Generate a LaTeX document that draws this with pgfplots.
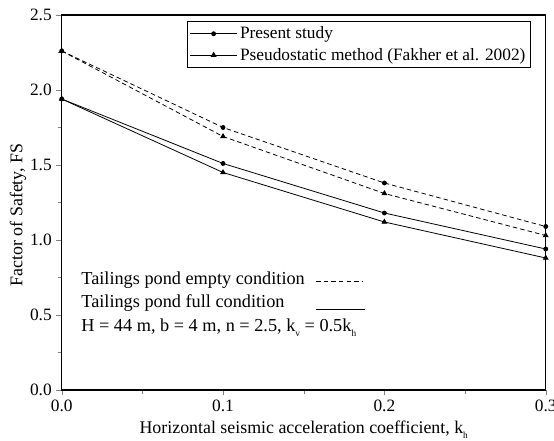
\documentclass[border=0pt]{standalone}
\usepackage{fontspec}
\setmainfont{Liberation Serif}
\usepackage{pgfplots}
\pgfplotsset{compat=1.18}

% small lowered subscript, as in the original figure
\newcommand{\lowsub}[1]{\raisebox{-0.55ex}{\fontsize{7}{7}\selectfont #1}}

% FS against k_h: present study and pseudostatic method, pond empty and full
\pgfplotstableread{
kh   emptyPS  emptyPM  fullPS  fullPM
0.0  2.26     2.26     1.94    1.94
0.1  1.75     1.69     1.51    1.45
0.2  1.38     1.31     1.18    1.12
0.3  1.09     1.03     0.94    0.88
}\fsdata

\begin{document}
\begin{tikzpicture}[font=\fontsize{13}{15.6}\selectfont]
\begin{axis}[
    scale only axis,
    width=363pt, height=281.25pt,
    xmin=0, xmax=0.3, ymin=0, ymax=2.5,
    xtick={0,0.1,0.2,0.3},
    ytick={0,0.5,1,1.5,2,2.5},
    minor x tick num=1, minor y tick num=1,
    tick pos=left, tick align=outside,
    major tick length=4pt, minor tick length=3pt,
    axis line style={line width=0.8pt},
    /pgf/number format/assume math mode=true,
    xticklabel style={/pgf/number format/.cd, fixed, fixed zerofill, precision=1},
    yticklabel style={/pgf/number format/.cd, fixed, fixed zerofill, precision=1},
    xlabel={Horizontal seismic acceleration coefficient, k\lowsub{h}},
    ylabel={Factor of Safety, FS},
    label style={font=\fontsize{13.4}{16}\selectfont},
    ylabel style={at={(ticklabel cs:0.467)}},
    ylabel shift=-4pt,
    legend style={at={(rel axis cs:0.970,0.984)}, anchor=north east,
        draw=black, line width=0.6pt, inner xsep=2pt, inner ysep=2pt,
        row sep=1.5pt},
    legend cell align=left,
    legend image code/.code={
        \draw[mark repeat=2, mark phase=2, #1]
            plot coordinates {(0pt,0pt) (17.5pt,0pt) (35pt,0pt)};},
    every axis plot/.append style={line width=0.6pt, black},
  ]
  \addlegendimage{solid, mark=*, mark size=1.5pt}
  \addlegendentry{Present study}
  \addlegendimage{solid, mark=triangle*, mark size=2pt}
  \addlegendentry{Pseudostatic method (Fakher et al. 2002)}

  \addplot[dash pattern=on 3.4pt off 2.3pt, mark=*, mark size=1.5pt,
           mark options={solid}, forget plot] table[x=kh, y=emptyPS] {\fsdata};
  \addplot[dash pattern=on 3.4pt off 2.3pt, mark=triangle*, mark size=2pt,
           mark options={solid}, forget plot] table[x=kh, y=emptyPM] {\fsdata};
  \addplot[solid, mark=*, mark size=1.5pt, forget plot]
           table[x=kh, y=fullPS] {\fsdata};
  \addplot[solid, mark=triangle*, mark size=2pt, forget plot]
           table[x=kh, y=fullPM] {\fsdata};

  \begin{scope}[every node/.style={anchor=base west, inner sep=0pt,
                font=\fontsize{13.7}{16}\selectfont}]
  \node at (axis cs:0.012,0.70) {Tailings pond empty condition};
  \node at (axis cs:0.012,0.549) {Tailings pond full condition};
  \node at (axis cs:0.012,0.387)
       {H = 44 m, b = 4 m, n = 2.5, k\lowsub{v} = 0.5k\lowsub{h}};
  \end{scope}
  \draw[line width=0.6pt, dash pattern=on 3.4pt off 2.3pt]
       (axis cs:0.1577,0.722) -- (axis cs:0.1866,0.722);
  \draw[line width=0.6pt] (axis cs:0.1577,0.54) -- (axis cs:0.1880,0.54);

  \coordinate (sw) at (rel axis cs:0,0);
  \coordinate (ne) at (rel axis cs:1,1);
\end{axis}
\pgfresetboundingbox
\path ([shift={(-46.3pt,-38.25pt)}]sw) rectangle ([shift={(6.2pt,11.25pt)}]ne);
\end{tikzpicture}
\end{document}
